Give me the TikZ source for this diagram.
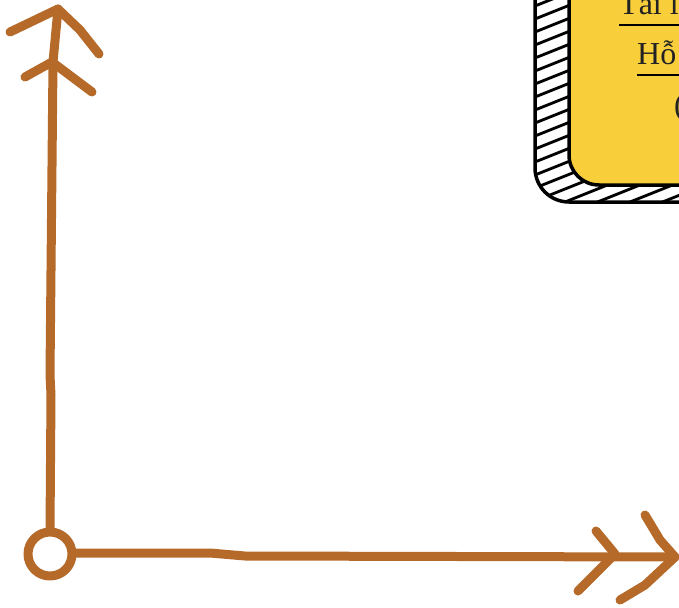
\documentclass[tikz,border=0pt]{standalone}
\usepackage{fontspec}
\setmainfont{Liberation Serif}
\definecolor{axisbrown}{HTML}{B56A2A}
\definecolor{boxyellow}{HTML}{F8CF3B}
\definecolor{textdark}{HTML}{222222}
\begin{document}
\begin{tikzpicture}[x=1pt,y=-1pt,
  axis/.style={draw=axisbrown,line width=9pt,line cap=round,line join=round},
  hatch/.style={draw=black,line width=2.8pt},
  outline/.style={draw=black,line width=3.5pt,line join=round},
  label/.style={anchor=base west,inner sep=0pt,text=textdark,font=\fontsize{32}{36}\selectfont},
  uline/.style={draw=black,line width=1.3pt}]
\clip (0,0) rectangle (679,607);
% hatched shadow
\begin{scope}
  \clip[rounded corners=34pt] (535,-60) rectangle (780,202);
  \foreach \c in {-20,-7,...,460} {
    \draw[hatch] (520,\c+6) -- (800,\c-106);
  }
\end{scope}
\draw[outline,rounded corners=34pt] (535,-60) rectangle (780,202);
% yellow box
\draw[outline,fill=boxyellow,rounded corners=30pt] (569,-60) rectangle (800,185);
% texts
\node[label] (t1) at (619,15) {Tài liệu};
\node[label] (t2) at (637,65) {Hỗ trợ};
\node[label] (t3) at (674,116) {(};
\coordinate (u1a) at (619,25); \coordinate (u1b) at (690,25);
\coordinate (u2a) at (637,75); \coordinate (u2b) at (690,75);
\draw[uline] (u1a) -- (u1b);
\draw[uline] (u2a) -- (u2b);
% origin
\coordinate (o) at (50,554);
\draw[axis] (o) circle (22pt);
% vertical axis
\coordinate (ytop) at (58,9);
\draw[axis] (50,531) -- (51,395) -- (50,375) -- (53,62) -- (ytop);
\draw[axis] (10,32) -- (ytop) -- (80,30) -- (99,54);
\draw[axis] (25,77) -- (52,62) -- (92,92);
% horizontal axis
\coordinate (xtip) at (675,557);
\draw[axis] (73,553) -- (210,553) -- (245,556) -- (xtip);
\draw[axis] (645,515) -- (660,540) -- (xtip) -- (645,585) -- (620,600);
\draw[axis] (596,531) -- (615,554) -- (578,591);
\end{tikzpicture}
\end{document}
